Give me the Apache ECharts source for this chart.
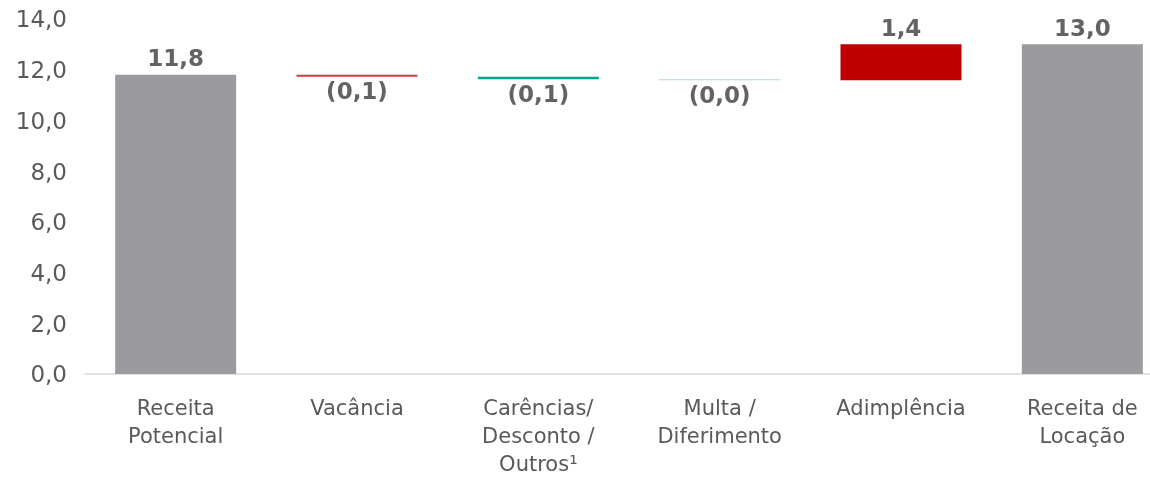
<!DOCTYPE html>
<html>
	<head>
		<meta charset="utf-8">
		<title>Receita</title>
		<script src="https://cdn.jsdelivr.net/npm/echarts@6/dist/echarts.min.js"></script>
		<style>
			html, body { margin: 0; padding: 0; background: #fff; }
			#chart { width: 1150px; height: 477px; }
		</style>
	</head>
	<body>
		<div id="chart"></div>
		<script type="text/javascript">
			var categories = ['Receita\nPotencial', 'Vacância', 'Carências/\nDesconto /\nOutros¹', 'Multa /\nDiferimento', 'Adimplência', 'Receita de\nLocação'];
			// deltas; first and last are totals
			var values = [11.8, -0.08, -0.10, -0.04, 1.42, 13.0];
			var isTotal = [true, false, false, false, false, true];
			var colors = ['#9b9b9f', '#d23a3a', '#00a693', '#a3ddd6', '#c00000', '#9b9b9f'];
			var yTicks = { min: 0, max: 14, interval: 2 };

			function fmt(v) {
				var s = Math.abs(v).toFixed(1).replace('.', ',');
				return v < 0 ? '(' + s + ')' : s;
			}

			var baseData = [];
			var barData = [];
			var running = 0;
			for (var i = 0; i < values.length; i++) {
				var v = values[i];
				var lo, hi;
				if (isTotal[i]) {
					lo = 0; hi = v; running = v;
				} else {
					lo = Math.min(running, running + v);
					hi = Math.max(running, running + v);
					running = running + v;
				}
				baseData.push(lo);
				barData.push({
					value: hi - lo,
					raw: v,
					itemStyle: { color: colors[i] },
					label: { position: v < 0 ? 'bottom' : 'top', distance: v < 0 ? 5 : 3 }
				});
			}

			var chart = echarts.init(document.getElementById('chart'));
			chart.setOption({
				animation: false,
				textStyle: { fontFamily: 'DejaVu Sans' },
				grid: { left: 85, right: -23, top: 19, bottom: 103, outerBoundsMode: 'none' },
				xAxis: {
					type: 'category',
					data: categories,
					axisLine: { lineStyle: { color: '#d9d9d9', width: 1.5 } },
					axisTick: { show: false },
					axisLabel: {
						interval: 0,
						color: '#595959',
						fontSize: 21,
						lineHeight: 28,
						margin: 22,
						verticalAlign: 'top'
					}
				},
				yAxis: {
					type: 'value',
					min: yTicks.min,
					max: yTicks.max,
					interval: yTicks.interval,
					splitLine: { show: false },
					axisLine: { show: false },
					axisTick: { show: false },
					axisLabel: {
						color: '#595959',
						fontSize: 23,
						margin: 18,
						formatter: function (v) { return '{t|' + v.toFixed(1).replace('.', ',') + '}'; },
						rich: {
							t: { fontSize: 23, color: '#595959', padding: [5, 0, 0, 0] }
						}
					}
				},
				series: [{
					type: 'bar',
					stack: 'w',
					data: baseData,
					barWidth: 121,
					itemStyle: { color: 'transparent' },
					silent: true
				}, {
					type: 'bar',
					stack: 'w',
					data: barData,
					barWidth: 121,
					label: {
						show: true,
						color: '#636363',
						fontSize: 23,
						fontWeight: 'bold',
						formatter: function (p) { return fmt(p.data.raw); }
					}
				}]
			});
		</script>
	</body>
</html>
